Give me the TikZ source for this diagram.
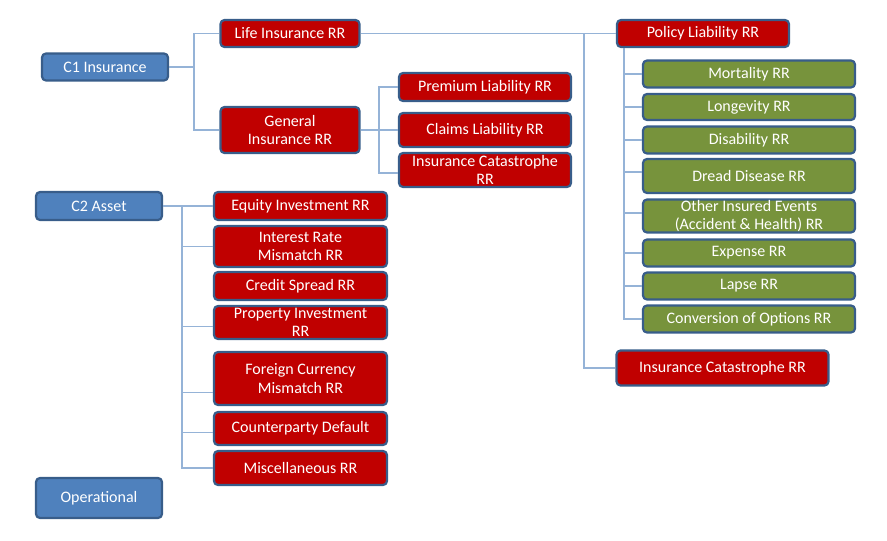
\documentclass[tikz,border=0pt]{standalone}
\usepackage{fontspec}
\setmainfont{Carlito}
\definecolor{redfill}{RGB}{192,0,0}
\definecolor{bluefill}{RGB}{79,129,189}
\definecolor{greenfill}{RGB}{119,147,60}
\definecolor{edgeclr}{RGB}{56,93,138}
\definecolor{connclr}{RGB}{149,179,215}
\begin{document}
\begin{tikzpicture}[x=1pt,y=-1pt,
  box/.style={draw=edgeclr, line width=2.2pt, rounded corners=4pt, text=white,
    align=center, inner sep=0pt, font=\fontsize{16}{18.5}\selectfont},
  redbox/.style={box, fill=redfill},
  bluebox/.style={box, fill=bluefill},
  greenbox/.style={box, fill=greenfill},
  conn/.style={draw=connclr, line width=1.4pt}]
\useasboundingbox (0,0) rectangle (887,541);

% level 0
\node[bluebox, minimum width=126pt, minimum height=27pt] (c1) at (105,67) {C1 Insurance};
\node[bluebox, minimum width=126pt, minimum height=28pt] (c2) at (99,206) {C2 Asset};
\node[bluebox, minimum width=126pt, minimum height=40pt] (op) at (99,498) {Operational};

% C1 branch
\node[redbox, minimum width=139pt, minimum height=27pt] (life) at (290,33.5) {Life Insurance RR};
\node[redbox, minimum width=139pt, minimum height=46pt] (gi) at (290,130) {General\\Insurance RR};
\node[redbox, minimum width=172pt, minimum height=28pt] (prem) at (485,87) {Premium Liability RR};
\node[redbox, minimum width=172pt, minimum height=34pt] (claims) at (485,130) {Claims Liability RR};
\node[redbox, minimum width=172pt, minimum height=34pt] (icgi) at (485,170) {Insurance Catastrophe\\RR};

% life branch
\node[redbox, minimum width=172pt, minimum height=27pt] (pl) at (703,33.5) {Policy Liability RR};
\node[redbox, minimum width=212pt, minimum height=35pt] (iclife) at (722.5,368) {Insurance Catastrophe RR};
\node[greenbox, minimum width=212pt, minimum height=27pt] (mort) at (749,74) {Mortality RR};
\node[greenbox, minimum width=212pt, minimum height=26pt] (long) at (749,107) {Longevity RR};
\node[greenbox, minimum width=212pt, minimum height=27pt] (dis) at (749,140) {Disability RR};
\node[greenbox, minimum width=212pt, minimum height=34pt] (dread) at (749,176) {Dread Disease RR};
\node[greenbox, minimum width=212pt, minimum height=33pt] (other) at (749,216) {Other Insured Events\\(Accident \& Health) RR};
\node[greenbox, minimum width=212pt, minimum height=27pt] (exp) at (749,253) {Expense RR};
\node[greenbox, minimum width=212pt, minimum height=27pt] (lapse) at (749,286) {Lapse RR};
\node[greenbox, minimum width=212pt, minimum height=27pt] (conv) at (749,319) {Conversion of Options RR};

% C2 branch
\node[redbox, minimum width=173pt, minimum height=28pt] (eq) at (300.5,206) {Equity Investment RR};
\node[redbox, minimum width=173pt, minimum height=41pt] (ir) at (300.5,246.5) {Interest Rate\\Mismatch RR};
\node[redbox, minimum width=173pt, minimum height=28pt] (cs) at (300.5,286) {Credit Spread RR};
\node[redbox, minimum width=173pt, minimum height=33pt] (prop) at (300.5,322.5) {Property Investment\\RR};
\node[redbox, minimum width=173pt, minimum height=53pt] (fx) at (300.5,378.5) {Foreign Currency\\Mismatch RR};
\node[redbox, minimum width=173pt, minimum height=33pt] (cp) at (300.5,428.5) {Counterparty Default};
\node[redbox, minimum width=173pt, minimum height=34pt] (misc) at (300.5,468) {Miscellaneous RR};

% bus coordinates
\coordinate (b1) at (194,0);
\coordinate (b2) at (379,0);
\coordinate (b3) at (584,0);
\coordinate (b4) at (624,0);
\coordinate (b5) at (182,0);
% off-centre attachment points
\coordinate (icgiA) at ([yshift=-3pt]icgi.west);
\coordinate (dreadA) at ([yshift=4pt]dread.west);
\coordinate (otherA) at ([yshift=3pt]other.west);
\coordinate (propA) at ([yshift=-4pt]prop.west);
\coordinate (fxA) at ([yshift=-14pt]fx.west);
\coordinate (cpA) at ([yshift=-4pt]cp.west);

% C1 connectors
\draw[conn] (c1.east) -- (b1 |- c1.east);
\draw[conn] (life.west) -| (b1 |- gi.west) -- (gi.west);
\draw[conn] (gi.east) -- (claims.west);
\draw[conn] (prem.west) -| (b2 |- icgiA) -- (icgiA);
% life connectors
\draw[conn] (life.east) -- (pl.west);
\draw[conn] (b3 |- life.east) |- (iclife.west);
\draw[conn] (b4 |- pl.south) |- (conv.west);
\draw[conn] (b4 |- mort.west) -- (mort.west);
\draw[conn] (b4 |- long.west) -- (long.west);
\draw[conn] (b4 |- dis.west) -- (dis.west);
\draw[conn] (b4 |- dreadA) -- (dreadA);
\draw[conn] (b4 |- otherA) -- (otherA);
\draw[conn] (b4 |- exp.west) -- (exp.west);
\draw[conn] (b4 |- lapse.west) -- (lapse.west);
% C2 connectors
\draw[conn] (c2.east) -- (eq.west);
\draw[conn] (b5 |- eq.west) |- (misc.west);
\draw[conn] (b5 |- ir.west) -- (ir.west);
\draw[conn] (b5 |- propA) -- (propA);
\draw[conn] (b5 |- fxA) -- (fxA);
\draw[conn] (b5 |- cpA) -- (cpA);
\end{tikzpicture}
\end{document}
